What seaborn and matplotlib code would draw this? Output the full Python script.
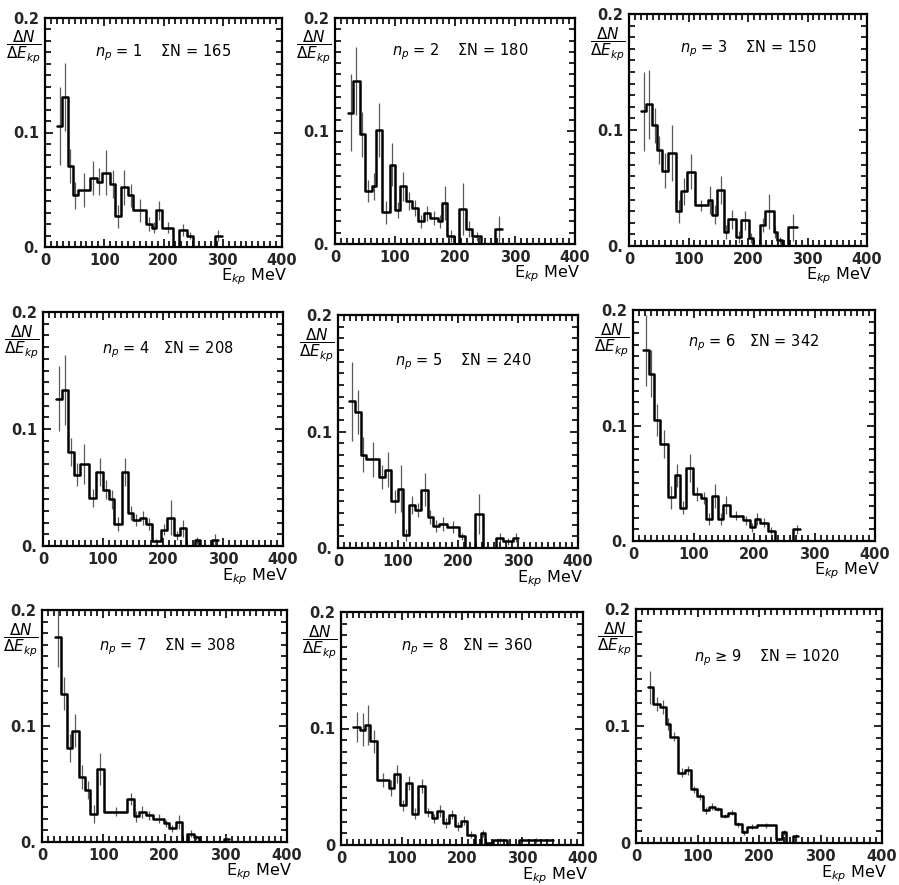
import numpy as np
import pandas as pd
import matplotlib
matplotlib.use("Agg")
import matplotlib.pyplot as plt
from matplotlib.ticker import MultipleLocator, FixedLocator, FixedFormatter
import seaborn as sns

# ---------------- data ----------------
edges1 = [20, 29, 39, 47, 55, 76, 87, 96, 110, 118, 128, 140, 149, 170, 180, 188, 198, 216, 227, 239, 249, 287, 298]
vals1 = [0.106, 0.131, 0.071, 0.045, 0.050, 0.060, 0.057, 0.065, 0.055, 0.027, 0.052, 0.045, 0.032, 0.020, 0.017,
         0.032, 0.017, 0.0, 0.015, 0.010, 0.0, 0.010]
errs1 = [0.034, 0.030, 0.015, 0.012, 0.015, 0.015, 0.012, 0.020, 0.012, 0.010, 0.015, 0.010, 0.010, 0.006, 0.005,
         0.008, 0.005, 0.0, 0.005, 0.003, 0.0, 0.005]

edges2 = [22, 30, 41, 50, 61, 69, 79, 91, 100, 109, 119, 129, 139, 148, 158, 171, 178, 187, 198, 207, 218, 228, 244,
          267, 278]
vals2 = [0.116, 0.144, 0.097, 0.047, 0.051, 0.101, 0.028, 0.070, 0.030, 0.051, 0.038, 0.032, 0.020, 0.027, 0.023,
         0.020, 0.036, 0.007, 0.0, 0.031, 0.013, 0.007, 0.0, 0.013]
errs2 = [0.034, 0.030, 0.020, 0.010, 0.012, 0.024, 0.010, 0.019, 0.007, 0.013, 0.008, 0.007, 0.006, 0.007, 0.006,
         0.006, 0.015, 0.005, 0.0, 0.023, 0.007, 0.004, 0.0, 0.012]

edges3 = [21, 29, 39, 47, 55, 66, 79, 88, 98, 111, 132, 140, 148, 160, 167, 180, 189, 201, 208, 220, 229, 243, 249,
          257, 268, 282]
vals3 = [0.116, 0.122, 0.104, 0.083, 0.065, 0.080, 0.030, 0.047, 0.064, 0.035, 0.040, 0.027, 0.048, 0.012, 0.023,
         0.008, 0.022, 0.007, 0.0, 0.018, 0.030, 0.012, 0.005, 0.0, 0.016]
errs3 = [0.034, 0.030, 0.015, 0.012, 0.015, 0.024, 0.010, 0.012, 0.015, 0.005, 0.012, 0.008, 0.012, 0.006, 0.008,
         0.005, 0.008, 0.004, 0.0, 0.006, 0.015, 0.005, 0.003, 0.0, 0.012]

edges4 = [22, 32, 42, 51, 61, 77, 89, 100, 110, 119, 131, 142, 150, 161, 172, 181, 197, 206, 219, 228, 239, 253, 261,
          281, 292]
vals4 = [0.126, 0.133, 0.080, 0.061, 0.070, 0.041, 0.063, 0.048, 0.040, 0.019, 0.063, 0.028, 0.022, 0.024, 0.019,
         0.004, 0.014, 0.024, 0.009, 0.015, 0.0, 0.005, 0.0, 0.005]
errs4 = [0.028, 0.030, 0.012, 0.010, 0.017, 0.008, 0.012, 0.008, 0.008, 0.006, 0.012, 0.006, 0.005, 0.006, 0.005,
         0.002, 0.005, 0.015, 0.004, 0.007, 0.0, 0.003, 0.0, 0.005]

edges5 = [19, 29, 38, 46, 69, 79, 89, 100, 109, 119, 129, 139, 150, 158, 169, 181, 202, 211, 229, 242, 264, 275, 292,
          300]
vals5 = [0.126, 0.117, 0.080, 0.076, 0.061, 0.067, 0.040, 0.051, 0.011, 0.037, 0.033, 0.050, 0.027, 0.019, 0.021,
         0.018, 0.010, 0.0, 0.029, 0.0, 0.009, 0.006, 0.009]
errs5 = [0.034, 0.019, 0.015, 0.015, 0.010, 0.015, 0.010, 0.020, 0.005, 0.008, 0.006, 0.014, 0.006, 0.005, 0.006,
         0.005, 0.003, 0.0, 0.017, 0.0, 0.004, 0.003, 0.004]

edges6 = [17, 26, 34, 45, 58, 69, 77, 88, 99, 113, 121, 130, 141, 149, 160, 182, 193, 201, 210, 223, 234, 265, 276]
vals6 = [0.165, 0.145, 0.105, 0.084, 0.038, 0.057, 0.029, 0.063, 0.041, 0.037, 0.019, 0.039, 0.019, 0.031, 0.022,
         0.018, 0.012, 0.019, 0.016, 0.009, 0.0, 0.010]
errs6 = [0.031, 0.020, 0.014, 0.012, 0.010, 0.010, 0.006, 0.012, 0.006, 0.005, 0.005, 0.010, 0.005, 0.008, 0.004,
         0.004, 0.004, 0.005, 0.004, 0.003, 0.0, 0.004]

edges7 = [22, 31, 41, 49, 60, 71, 79, 90, 101, 139, 150, 158, 169, 182, 199, 207, 218, 229, 237, 248, 256, 297, 305]
vals7 = [0.177, 0.128, 0.081, 0.096, 0.056, 0.045, 0.024, 0.063, 0.026, 0.037, 0.022, 0.026, 0.023, 0.020, 0.016,
         0.012, 0.017, 0.0, 0.007, 0.004, 0.0, 0.003]
errs7 = [0.026, 0.014, 0.012, 0.014, 0.010, 0.008, 0.008, 0.014, 0.004, 0.005, 0.005, 0.005, 0.004, 0.004, 0.003,
         0.003, 0.006, 0.0, 0.003, 0.002, 0.0, 0.003]

edges8 = [20, 32, 40, 48, 60, 79, 87, 98, 108, 117, 128, 139, 150, 158, 169, 179, 188, 198, 208, 221, 232, 238, 252,
          274, 295, 351]
vals8 = [0.101, 0.099, 0.103, 0.089, 0.056, 0.049, 0.061, 0.034, 0.053, 0.027, 0.051, 0.028, 0.023, 0.029, 0.019,
         0.026, 0.016, 0.021, 0.009, 0.0, 0.010, 0.002, 0.004, 0.0, 0.004]
errs8 = [0.013, 0.014, 0.017, 0.010, 0.006, 0.007, 0.008, 0.005, 0.006, 0.005, 0.006, 0.004, 0.004, 0.005, 0.004,
         0.004, 0.004, 0.004, 0.003, 0.0, 0.003, 0.001, 0.002, 0.0, 0.002]

edges9 = [19, 28, 39, 49, 56, 69, 80, 89, 99, 109, 118, 129, 139, 150, 161, 172, 180, 196, 228, 237, 244, 256, 264]
vals9 = [0.133, 0.119, 0.116, 0.102, 0.091, 0.060, 0.062, 0.046, 0.040, 0.028, 0.031, 0.029, 0.023, 0.026, 0.016,
         0.009, 0.014, 0.015, 0.003, 0.009, 0.0, 0.006]
errs9 = [0.014, 0.006, 0.006, 0.005, 0.004, 0.004, 0.004, 0.003, 0.003, 0.003, 0.003, 0.002, 0.002, 0.002, 0.002,
         0.002, 0.002, 0.002, 0.001, 0.002, 0.0, 0.002]

panel_labels = ["$n_p$ = 1    ΣN = 165", "$n_p$ = 2    ΣN = 180", "$n_p$ = 3    ΣN = 150",
                "$n_p$ = 4   ΣN = 208", "$n_p$ = 5    ΣN = 240", "$n_p$ = 6   ΣN = 342",
                "$n_p$ = 7    ΣN = 308", "$n_p$ = 8   ΣN = 360", "$n_p$ ≥ 9    ΣN = 1020"]
x_ticks = [0, 100, 200, 300, 400]
x_tick_labels = ["0", "100", "200", "300", "400"]
y_ticks = [0.0, 0.1, 0.2]
y_tick_labels_a = ["0.", "0.1", "0.2"]
y_tick_labels_b = ["0", "0.1", "0.2"]

edges_all = [edges1, edges2, edges3, edges4, edges5, edges6, edges7, edges8, edges9]
vals_all = [vals1, vals2, vals3, vals4, vals5, vals6, vals7, vals8, vals9]
errs_all = [errs1, errs2, errs3, errs4, errs5, errs6, errs7, errs8, errs9]

# ---------------- layout (pixel boxes of each panel: left, right, top, bottom) ----------------
W, H = 899, 885
boxes = [(45, 282, 18, 247), (335, 575, 18, 244), (629, 867, 14, 246),
         (43, 283, 312, 546), (338, 578, 315, 548), (633, 875, 310, 541),
         (42, 287, 610, 842), (341, 583, 612, 845), (636, 882, 609, 843)]
text_pos = [(0.50, 0.85), (0.52, 0.85), (0.50, 0.85),
            (0.52, 0.84), (0.52, 0.80), (0.50, 0.86),
            (0.51, 0.84), (0.52, 0.85), (0.53, 0.79)]

sns.set_theme(style="white")
plt.rcParams["font.family"] = ["DejaVu Sans"]
plt.rcParams["mathtext.fontset"] = "dejavusans"

fig = plt.figure(figsize=(W / 100, H / 100), dpi=100)
fig.patch.set_facecolor("white")

for i in range(9):
    l, r, t, b = boxes[i]
    ax = fig.add_axes([l / W, 1 - b / H, (r - l) / W, (b - t) / H])
    edges = [float(e) for e in edges_all[i]]
    vals = np.array(vals_all[i])
    errs = np.array(errs_all[i])
    centers = [0.5 * (edges[k] + edges[k + 1]) for k in range(len(edges) - 1)]
    df = pd.DataFrame({"E": centers, "w": vals, "err": errs})

    # error bars (thin grey)
    sub = df[df["err"] > 0]
    ax.errorbar(sub["E"], sub["w"], yerr=sub["err"], fmt="none",
                ecolor="0.35", elinewidth=0.9, capsize=0, zorder=2)
    # step histogram
    sns.histplot(data=df, x="E", weights="w", bins=edges, element="step", fill=False,
                 color="black", linewidth=1.8, ax=ax, zorder=3)

    ax.set_xlim(0, 400)
    ax.set_ylim(0, 0.2)
    ax.set_xlabel("")
    ax.set_ylabel("")
    ax.xaxis.set_major_locator(FixedLocator(x_ticks))
    ax.xaxis.set_major_formatter(FixedFormatter(x_tick_labels))
    ax.xaxis.set_minor_locator(MultipleLocator(10))
    ax.yaxis.set_major_locator(FixedLocator(y_ticks))
    ax.yaxis.set_major_formatter(FixedFormatter(y_tick_labels_b if i >= 7 else y_tick_labels_a))
    ax.yaxis.set_minor_locator(MultipleLocator(0.01))
    ax.tick_params(which="both", direction="in", top=True, right=True, bottom=True, left=True,
                   color="black", width=1.2)
    ax.tick_params(which="major", length=6, labelsize=10.5, pad=4)
    ax.tick_params(which="minor", length=4)
    for lab in ax.get_xticklabels() + ax.get_yticklabels():
        lab.set_fontweight("bold")
    for sp in ax.spines.values():
        sp.set_visible(True)
        sp.set_color("black")
        sp.set_linewidth(1.6)

    ax.text(text_pos[i][0], text_pos[i][1], panel_labels[i], transform=ax.transAxes,
            ha="center", va="center", fontsize=10.5, color="black")
    ax.text(-0.015, 0.87, r"$\dfrac{\Delta N}{\Delta E_{kp}}$", transform=ax.transAxes,
            ha="right", va="center", fontsize=11, color="black")
    ax.text(1.02, -0.13, r"E$_{kp}$ MeV", transform=ax.transAxes,
            ha="right", va="center", fontsize=11.5, color="black")

fig.savefig("out.png", dpi=100, facecolor="white")
